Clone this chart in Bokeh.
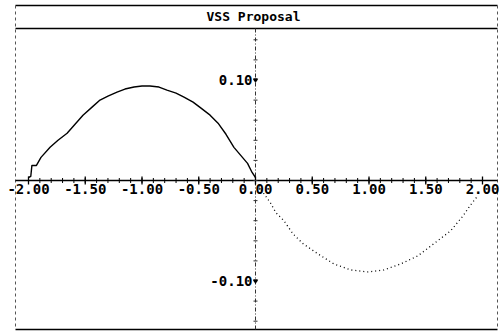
import math
from bokeh.plotting import figure
from bokeh.models import Range1d, BoxAnnotation
from bokeh.core.properties import value
from bokeh.embed import file_html
from bokeh.resources import INLINE

# ---- data ----
title_text = "VSS Proposal"
x_ticks = [-2.0, -1.5, -1.0, -0.5, 0.0, 0.5, 1.0, 1.5, 2.0]
x_tick_labels = ["-2.00", "-1.50", "-1.00", "-0.50", "0.00", "0.50", "1.00", "1.50", "2.00"]
y_ticks = [0.10, -0.10]
y_tick_labels = ["0.10", "-0.10"]

left_x = [-2.00, -1.98, -1.97, -1.93, -1.89, -1.81, -1.74, -1.66, -1.59, -1.52, -1.44,
          -1.37, -1.30, -1.22, -1.15, -1.07, -1.00, -0.93, -0.85, -0.78, -0.70,
          -0.63, -0.55, -0.48, -0.40, -0.33, -0.26, -0.19, -0.13, -0.07, -0.03, 0.00]
left_y = [0.003, 0.004, 0.015, 0.015, 0.023, 0.033, 0.040, 0.047, 0.056, 0.065, 0.073,
          0.080, 0.084, 0.088, 0.091, 0.093, 0.094, 0.094, 0.093, 0.090, 0.087,
          0.083, 0.078, 0.072, 0.065, 0.057, 0.046, 0.033, 0.025, 0.017, 0.008, 0.003]

right_x = [0.03, 0.08, 0.13, 0.18, 0.25, 0.33, 0.42, 0.55, 0.69, 0.84, 0.99, 1.13,
           1.28, 1.43, 1.57, 1.72, 1.83, 1.89, 1.96]
right_y = [-0.006, -0.014, -0.022, -0.032, -0.040, -0.053, -0.063, -0.073, -0.083,
           -0.089, -0.091, -0.089, -0.083, -0.075, -0.063, -0.050, -0.035, -0.025, -0.015]

x_minor = [round(-2.0 + 0.1 * i, 2) for i in range(41)]
y_minor = [round(-0.14 + 0.02 * i, 2) for i in range(16)]

# ---- layout (pixel geometry of the page) ----
W, H = 502, 333
X0, XS = 255.0, 113.5      # px of x=0, px per unit
Y0, YS = 180.0, 1005.0     # px of y=0, px per unit


def dx(px):
    return (px - X0) / XS


def dy(py):
    return (Y0 - py) / YS


p = figure(width=W, height=H, output_backend="svg", toolbar_location=None,
           x_axis_location=None, y_axis_location=None, min_border=0,
           x_range=Range1d(dx(0), dx(W)), y_range=Range1d(dy(H), dy(0)))
p.outline_line_color = None
p.grid.visible = False
p.background_fill_color = "white"
p.border_fill_color = "white"

FONT = value("DejaVu Sans Mono")

# outer frame
box_l, box_r, box_t, box_b = dx(15), dx(497), dy(5), dy(329)
band = dy(28)
p.segment(x0=[box_l, box_l, box_l], y0=[box_t, band, box_b],
          x1=[box_r, box_r, box_r], y1=[box_t, band, box_b],
          line_color="black", line_width=1.6)
p.segment(x0=[box_l, box_r], y0=[box_t, box_t], x1=[box_l, box_r], y1=[box_b, box_b],
          line_color="#555555", line_width=1, line_dash="3 3")

# title
p.text(x=[dx(253)], y=[dy(16)], text=[title_text], text_font=FONT,
       text_font_size="13px", text_font_style="bold", text_align="center",
       text_baseline="middle", text_color="black")

# axes
p.segment(x0=[box_l], y0=[0], x1=[box_r], y1=[0], line_color="black", line_width=1.5)
p.segment(x0=[0], y0=[band], x1=[0], y1=[box_b], line_color="#333333",
          line_width=1, line_dash="4 2 1 2")

# ticks
p.scatter(x=x_minor, y=[0] * len(x_minor), marker="dash", angle=math.pi / 2,
          size=5, line_color="black", line_width=1)
p.scatter(x=x_ticks, y=[0] * len(x_ticks), marker="dash", angle=math.pi / 2,
          size=8, line_color="black", line_width=1.3)
p.scatter(x=[0] * len(y_minor), y=y_minor, marker="dash", size=4,
          line_color="#333333", line_width=1)
p.scatter(x=[0] * len(y_ticks), y=y_ticks, marker="triangle", angle=math.pi,
          size=4, line_color="black", fill_color="black")

# tick labels
p.text(x=x_ticks, y=[0] * len(x_ticks), text=x_tick_labels, text_font=FONT,
       text_font_size="14px", text_font_style="bold", text_align="center",
       text_baseline="top", y_offset=3, text_color="black")
p.text(x=[0] * len(y_ticks), y=y_ticks, text=y_tick_labels, text_font=FONT,
       text_font_size="14px", text_font_style="bold", text_align="right",
       text_baseline="alphabetic", x_offset=-3, text_color="black")

# curves
p.line(left_x, left_y, line_color="black", line_width=1.4)
p.line(right_x, right_y, line_color="black", line_width=1.3, line_dash="1 3")

open("out.html", "w").write(file_html(p, INLINE))
